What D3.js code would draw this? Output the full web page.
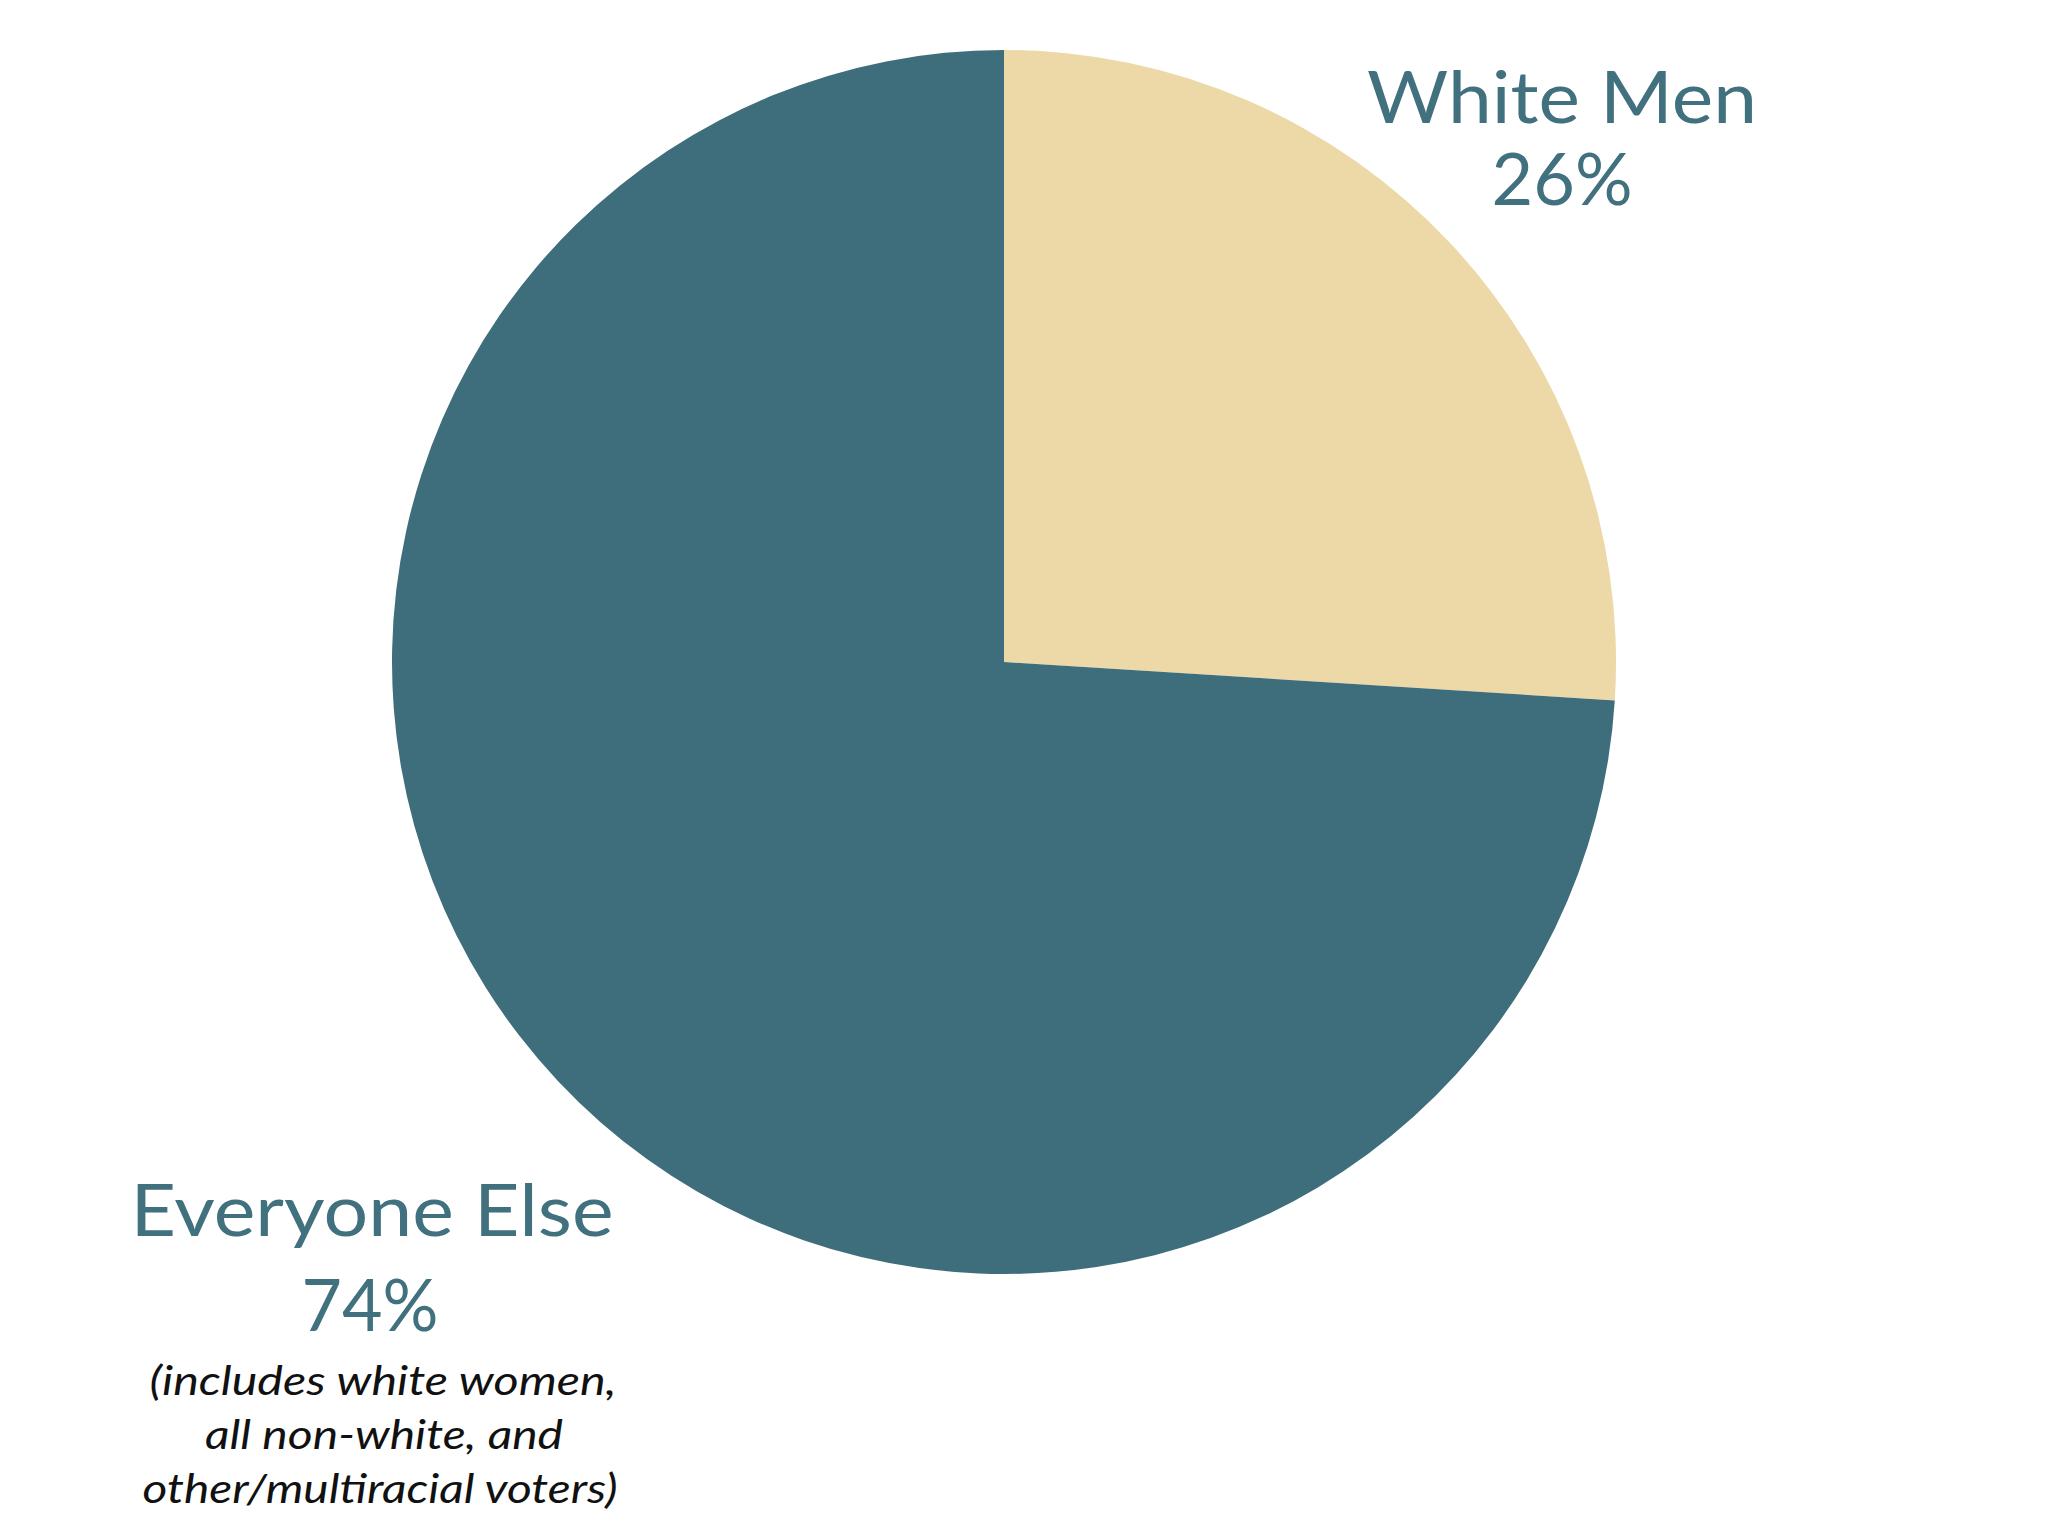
<!DOCTYPE html>
<html>
<head>
<meta charset="utf-8">
<script src="https://cdn.jsdelivr.net/npm/d3@7"></script>
<style>
  html, body { margin: 0; padding: 0; background: #ffffff; }
  svg { display: block; }
</style>
</head>
<body>
<svg id="chart" width="2048" height="1536"></svg>
<script>
const categories = ["White Men", "Everyone Else"];
const values = [26, 74];
const percentLabels = ["26%", "74%"];
const noteLines = ["(includes white women,", "all non-white, and", "other/multiracial voters)"];
const colors = ["#EDD8A7", "#3E6D7B"];

const svg = d3.select("#chart");
const cx = 1004, cy = 662, r = 612;

const pie = d3.pie().sort(null).value(d => d);
const arc = d3.arc().innerRadius(0).outerRadius(r);

const g = svg.append("g").attr("transform", `translate(${cx},${cy})`);
g.selectAll("path")
  .data(pie(values))
  .join("path")
  .attr("d", arc)
  .attr("fill", (d, i) => colors[i]);

const teal = "#41707E";
const font = "Lato, 'Open Sans', sans-serif";

function label(txt, x, y, size, w) {
  svg.append("text").attr("x", x).attr("y", y)
    .attr("text-anchor", "middle").attr("font-family", font).attr("font-size", size)
    .attr("fill", teal).attr("textLength", w).attr("lengthAdjust", "spacingAndGlyphs")
    .text(txt);
}

label(categories[0], 1562, 123, 71, 390);
label(percentLabels[0], 1562, 205, 71, 141);
label(categories[1], 372, 1236, 71, 483);
label(percentLabels[1], 370, 1331, 71, 137);

const noteX = [383, 384, 380];
const noteY = [1395, 1449, 1503];
const noteW = [467, 358, 475];
svg.selectAll("text.note")
  .data(noteLines)
  .join("text")
  .attr("class", "note")
  .attr("x", (d, i) => noteX[i])
  .attr("y", (d, i) => noteY[i])
  .attr("text-anchor", "middle")
  .attr("font-family", font)
  .attr("font-style", "italic")
  .attr("font-size", 40)
  .attr("fill", "#111111")
  .attr("textLength", (d, i) => noteW[i])
  .attr("lengthAdjust", "spacingAndGlyphs")
  .text(d => d);
</script>
</body>
</html>
